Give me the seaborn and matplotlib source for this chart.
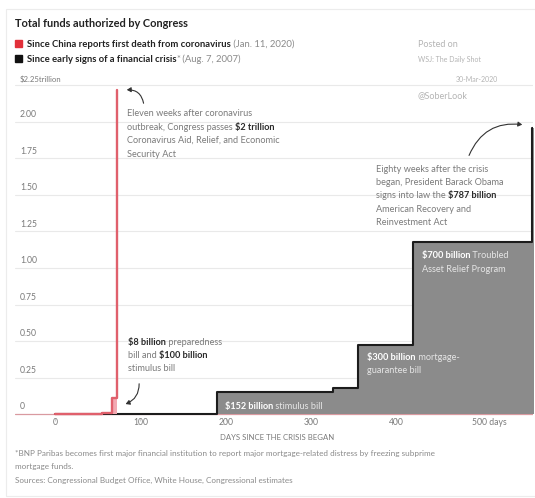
import matplotlib
matplotlib.use("Agg")
import matplotlib.pyplot as plt
import seaborn as sns
import pandas as pd
from matplotlib.transforms import IdentityTransform
from matplotlib.patches import FancyArrowPatch, Rectangle

# Cumulative funds authorized (trillions of dollars) by days since each crisis began
covid_days = [0, 55, 67, 73]
covid_total = [0.0, 0.008, 0.108, 2.22]
crisis_days = [0, 190, 326, 355, 420, 559, 566]
crisis_total = [0.0, 0.152, 0.175, 0.475, 1.175, 1.962, 1.962]

y_ticks = [0.25, 0.5, 0.75, 1.0, 1.25, 1.5, 1.75, 2.0, 2.25]
y_tick_labels = ["0.25", "0.50", "0.75", "1.00", "1.25", "1.50", "1.75", "2.00", "$2.25trillion"]
x_ticks = [0, 100, 200, 300, 400, 500]
x_tick_labels = ["0", "100", "200", "300", "400", "500 days"]

W, H = 535, 498
sns.set_theme(style="white")
plt.rcParams["font.family"] = ["Lato", "DejaVu Sans"]

DARK = "#2a2a2a"
GREY = "#7a7a7a"
LIGHT = "#b4b4b4"
RED_LINE = "#e0606c"
RED_FILL = "#f2a9b2"
FILL_GREY = "#8b8b8b"

fig = plt.figure(figsize=(W / 100, H / 100), dpi=100)
fig.patch.set_facecolor("white")

# axes placed so that y=0 sits at pixel row 414 and y=2.25 at row 85.5
y_lo, y_hi = -0.03, 2.3
px_per_unit = 146.0
ax_top = 414 - y_hi * px_per_unit
ax_bot = 414 - y_lo * px_per_unit
ax = fig.add_axes([15 / W, 1 - ax_bot / H, (533 - 15) / W, (ax_bot - ax_top) / H])
ax.set_xlim(-47, 560.4)
ax.set_ylim(y_lo, y_hi)
for s in ax.spines.values():
    s.set_visible(False)
ax.set_facecolor("white")

# horizontal gridlines with labels sitting just above them
for yv, lab in zip(y_ticks, y_tick_labels):
    ax.axhline(yv, color="#e9e9e9", lw=0.8, zorder=0)
    ax.annotate(lab, (5 / 518, yv), xycoords=ax.get_yaxis_transform(),
                xytext=(0, 2), textcoords="offset points", va="bottom", ha="left",
                fontsize=5.6 if lab.startswith("$") else 6.2, color=GREY)
ax.annotate("0", (5 / 518, 0), xycoords=ax.get_yaxis_transform(),
            xytext=(0, 2), textcoords="offset points", va="bottom", ha="left",
            fontsize=6.2, color=GREY)
ax.axhline(0, color="#d99aa0", lw=0.9, zorder=1)

df_covid = pd.DataFrame({"day": covid_days, "total": covid_total})
df_crisis = pd.DataFrame({"day": crisis_days, "total": crisis_total})

ax.fill_between(crisis_days, crisis_total, step="post", color=FILL_GREY, lw=0, zorder=2)
sns.lineplot(data=df_crisis, x="day", y="total", drawstyle="steps-post",
             color="#1c1c1c", lw=1.5, ax=ax, zorder=3)
ax.fill_between(covid_days, covid_total, step="post", color=RED_FILL, lw=0, zorder=4)
sns.lineplot(data=df_covid, x="day", y="total", drawstyle="steps-post",
             color=RED_LINE, lw=1.7, ax=ax, zorder=5)
ax.set_xlabel("")
ax.set_ylabel("")
ax.set_yticks([])
ax.set_xticks(x_ticks)
ax.set_xticklabels([])
ax.tick_params(axis="x", length=2, width=0.6, color="#c8c8c8", direction="out", bottom=True, pad=0)

for xv, lab in zip(x_ticks, x_tick_labels):
    if lab.endswith("days"):
        ax.annotate(lab, (xv, 0), xycoords=ax.get_xaxis_transform(), xytext=(-6.5, -3),
                    textcoords="offset points", ha="left", va="center", fontsize=6.2, color=GREY)
    else:
        ax.annotate(lab, (xv, 0), xycoords=ax.get_xaxis_transform(), xytext=(0, -3),
                    textcoords="offset points", ha="center", va="center", fontsize=6.2, color=GREY)

renderer = fig.canvas.get_renderer()
ident = IdentityTransform()


def runs(x, y, parts, size):
    """Draw a line of mixed-weight text; x, y are pixels from the top-left (baseline)."""
    cx = x
    for text, weight, color in parts:
        t = fig.text(cx, H - y, text, transform=ident, fontsize=size, fontweight=weight,
                     color=color, va="baseline", ha="left")
        cx = t.get_window_extent(renderer).x1
    return cx


def arrow(tail, head, rad):
    p = FancyArrowPatch((tail[0], H - tail[1]), (head[0], H - head[1]), transform=ident,
                        connectionstyle=f"arc3,rad={rad}",
                        arrowstyle="-|>,head_length=2.4,head_width=1.4",
                        color="#333333", lw=0.8, zorder=10)
    fig.add_artist(p)


# header
fig.add_artist(Rectangle((6, 2), W, H - 11, transform=ident, fill=False,
                         edgecolor="#ececec", lw=0.8))
runs(15, 27, [("Total funds authorized by Congress", "bold", "#222222")], 7.9)
fig.add_artist(Rectangle((15, H - 47), 7, 7, transform=ident, color="#e2303a"))
fig.add_artist(Rectangle((15, H - 62), 7, 7, transform=ident, color="#111111"))
runs(27, 47, [("Since China reports first death from coronavirus", "bold", "#222222"),
              (" (Jan. 11, 2020)", "normal", "#8a8a8a")], 6.8)
runs(27, 62, [("Since early signs of a financial crisis", "bold", "#222222"),
              ("*", "normal", "#8a8a8a"), (" (Aug. 7, 2007)", "normal", "#8a8a8a")], 6.8)

runs(418, 47, [("Posted on", "normal", LIGHT)], 6.5)
runs(418, 62, [("WSJ: The Daily Shot", "normal", LIGHT)], 5.0)
fig.text(498, H - 82, "30-Mar-2020", transform=ident, fontsize=5.0, color=LIGHT,
         ha="right", va="baseline")
runs(418, 98, [("@SoberLook", "normal", LIGHT)], 6.5)

# annotations
AS = 6.6
for i, parts in enumerate([
    [("Eleven weeks after coronavirus", "normal", GREY)],
    [("outbreak, Congress passes ", "normal", GREY), ("$2 trillion", "bold", DARK)],
    [("Coronavirus Aid, Relief, and Economic", "normal", GREY)],
    [("Security Act", "normal", GREY)],
]):
    runs(127, 116 + i * 13.5, parts, AS)
arrow((144, 106), (124, 90), 0.5)

for i, parts in enumerate([
    [("$8 billion", "bold", DARK), (" preparedness", "normal", GREY)],
    [("bill and ", "normal", GREY), ("$100 billion", "bold", DARK)],
    [("stimulus bill", "normal", GREY)],
]):
    runs(128, 345 + i * 13.2, parts, AS)
arrow((139, 381), (123, 405), -0.4)

for i, parts in enumerate([
    [("Eighty weeks after the crisis", "normal", GREY)],
    [("began, President Barack Obama", "normal", GREY)],
    [("signs into law the ", "normal", GREY), ("$787 billion", "bold", DARK)],
    [("American Recovery and", "normal", GREY)],
    [("Reinvestment Act", "normal", GREY)],
]):
    runs(376, 172 + i * 13.2, parts, AS)
arrow((468, 158), (525, 125), -0.4)

WHITE_SOFT = "#e6e6e6"
runs(225, 409, [("$152 billion", "bold", "white"), (" stimulus bill", "normal", WHITE_SOFT)], AS)
runs(367, 360, [("$300 billion", "bold", "white"), (" mortgage-", "normal", WHITE_SOFT)], AS)
runs(367, 373, [("guarantee bill", "normal", WHITE_SOFT)], AS)
runs(422, 258, [("$700 billion", "bold", "white"), (" Troubled", "normal", WHITE_SOFT)], AS)
runs(422, 272, [("Asset Relief Program", "normal", WHITE_SOFT)], AS)

# axis title and footnotes
fig.text(277, H - 440, "DAYS SINCE THE CRISIS BEGAN", transform=ident, fontsize=5.6,
         color=GREY, ha="center", va="baseline")
runs(15, 456, [("*BNP Paribas becomes first major financial institution to report major "
                "mortgage-related distress by freezing subprime", "normal", "#8a8a8a")], 5.9)
runs(15, 469, [("mortgage funds.", "normal", "#8a8a8a")], 5.9)
runs(15, 483, [("Sources: Congressional Budget Office, White House, Congressional estimates",
                "normal", "#8a8a8a")], 5.9)

fig.savefig("out.png", dpi=100)
